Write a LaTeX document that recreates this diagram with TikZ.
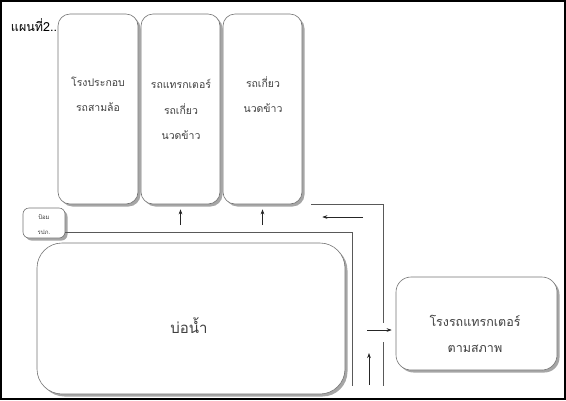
\documentclass[tikz,border=0pt]{standalone}
\usepackage{fontspec}
\newfontfamily\thai[Script=Thai]{Loma}
\usetikzlibrary{positioning, arrows.meta, shadows}

\begin{document}
\begin{tikzpicture}[
  x=1pt, y=-1pt,
  every node/.style={font=\thai\fontsize{10.5}{25.5}\selectfont, text=black!75},
  area/.style={
    rectangle, rounded corners=12pt,
    draw=black!55, line width=0.6pt, fill=white,
    drop shadow={shadow xshift=2.5pt, shadow yshift=-2.5pt, fill=black!35, opacity=1},
    inner sep=0pt,
  },
  txt/.style={align=center},
  link/.style={draw=black!65, line width=0.6pt},
  arr/.style={-{Stealth[length=1.8mm,width=1.3mm]}, draw=black!85, line width=0.6pt},
]
  \useasboundingbox (0,0) rectangle (566,400);
  \draw[line width=2pt] (1,1) rectangle (565,399);

  \node[font=\thai\fontsize{12.5}{14}\selectfont, text=black] (title) at (34,25) {แผนที่2..};

  % buildings along the top
  \node[area, minimum width=80pt, minimum height=190pt] (plant)   at (98,109)    {};
  \node[area, minimum width=79pt, minimum height=190pt] (tractor) at (180.5,109) {};
  \node[area, minimum width=79pt, minimum height=190pt] (harvest) at (262.5,109) {};
  \node[txt] (plantT)   at (98,94.5)  {โรงประกอบ\\รถสามล้อ};
  \node[txt] (tractorT) at (181,109.5) {รถแทรกเตอร์\\รถเกี่ยว\\นวดข้าว};
  \node[txt] (harvestT) at (263,94.5) {รถเกี่ยว\\นวดข้าว};

  \node[area, rounded corners=6pt, minimum width=42pt, minimum height=30pt] (guard) at (44,223) {};
  \node[txt, font=\thai\fontsize{6}{15}\selectfont] (guardT) at (44,224.5) {ป้อม\\รปภ.};

  \node[area, rounded corners=25pt, minimum width=308pt, minimum height=151pt] (pond) at (191,318.5) {};
  \node[txt, font=\thai\fontsize{15}{25}\selectfont] (pondT) at (189,326) {บ่อน้ำ};

  \node[area, rounded corners=15pt, minimum width=161pt, minimum height=93pt] (garage) at (476.5,323.5) {};
  \node[txt, font=\thai\fontsize{12.5}{26}\selectfont] (garageT) at (475,334) {โรงรถแทรกเตอร์\\ตามสภาพ};

  % roads
  \coordinate (gEnd) at (352,386);
  \coordinate (rGap) at (383,323);
  \coordinate (rLow) at (383,342);
  \coordinate (rEnd) at (383,386);
  \draw[link] ([yshift=-9pt]guard.east) -| (gEnd);
  \draw[link] ([xshift=9pt]harvest.south east) -| (rGap);
  \draw[link] (rLow) -- (rEnd);

  % traffic
  \coordinate (inR) at (363,217);
  \coordinate (toG) at (367,330);
  \coordinate (upB) at (369,385);
  \coordinate (upT) at (369,353);
  \draw[arr] (tractor.south |- 0,225) -- ([yshift=-5pt]tractor.south);
  \draw[arr] (harvest.south |- 0,225) -- ([yshift=-5pt]harvest.south);
  \draw[arr] (inR) -- ([xshift=20pt]harvest.east |- inR);
  \draw[arr] (toG) -- ([xshift=-4pt]garage.west |- toG);
  \draw[arr] (upB) -- (upT);
\end{tikzpicture}
\end{document}
